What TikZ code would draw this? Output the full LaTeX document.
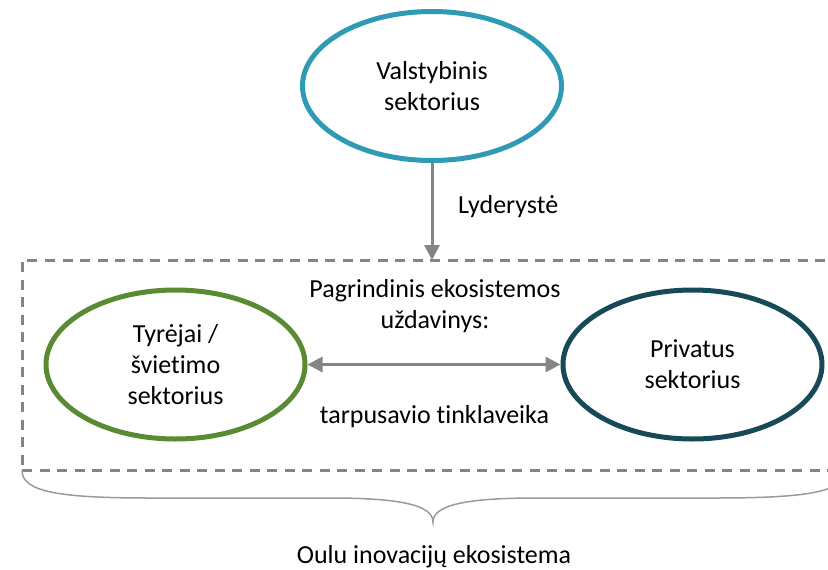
\documentclass[tikz,border=0pt]{standalone}
\usepackage{fontspec}
\setmainfont{Carlito}[Ligatures=NoCommon]
\usepackage{xcolor}
\usetikzlibrary{shapes.geometric, arrows.meta, positioning, calc}

\definecolor{valstblue}{HTML}{2F9AB4}
\definecolor{tyrgreen}{HTML}{5A8A32}
\definecolor{privteal}{HTML}{174A57}
\definecolor{linegray}{HTML}{858585}
\definecolor{bracegray}{HTML}{9A9A9A}

\begin{document}
\begin{tikzpicture}[x=1pt, y=-1pt,
  font=\fontsize{26}{31}\selectfont,
  sector/.style={draw, ellipse, line width=5pt, minimum width=259pt, minimum height=149pt, inner sep=0pt, align=center},
  arr/.style={-{Triangle[length=15pt, width=15pt]}, line width=3pt, draw=linegray},
  lbl/.style={inner sep=0pt, align=center}]
\useasboundingbox (0,0) rectangle (828,570);

% Sectors
\node[sector, draw=valstblue] (valst) at (432,86) {Valstybinis\\sektorius};
\node[sector, draw=tyrgreen] (tyr) at (175.5,364.5) {Tyrėjai /\\švietimo\\sektorius};
\node[sector, draw=privteal] (priv) at (692.5,364.5) {Privatus\\sektorius};

% Ecosystem frame
\node[draw=linegray, line width=3pt, dash pattern=on 10pt off 7.5pt, inner sep=0pt, outer sep=0pt,
  minimum width=830pt, minimum height=210.5pt] (eco) at (437,365.25) {};

% Arrows
\draw[arr] (valst.south) -- (valst.south |- eco.north);
\draw[arr, {Triangle[length=15pt, width=15pt]}-{Triangle[length=15pt, width=15pt]}] (tyr.east) -- (priv.west);

% Labels
\node[lbl, anchor=base west] (lyd) at (458,213) {Lyderystė};
\node[lbl] (task) at (435,306) {Pagrindinis ekosistemos\\uždavinys:};
\node[lbl, anchor=base] (net) at (434.5,423) {tarpusavio tinklaveika};

% Brace
\draw[bracegray, line width=1.5pt] (eco.south west)
  .. controls (22,492) and (60,498) .. (150,498) -- (330,498)
  .. controls (400,498) and (433,505) .. (433,522)
  .. controls (433,505) and (466,498) .. (536,498) -- (716,498)
  .. controls (806,498) and (844,492) .. (844,472);
\node[lbl, anchor=base] (oulu) at (434,563) {Oulu inovacijų ekosistema};
\end{tikzpicture}
\end{document}
